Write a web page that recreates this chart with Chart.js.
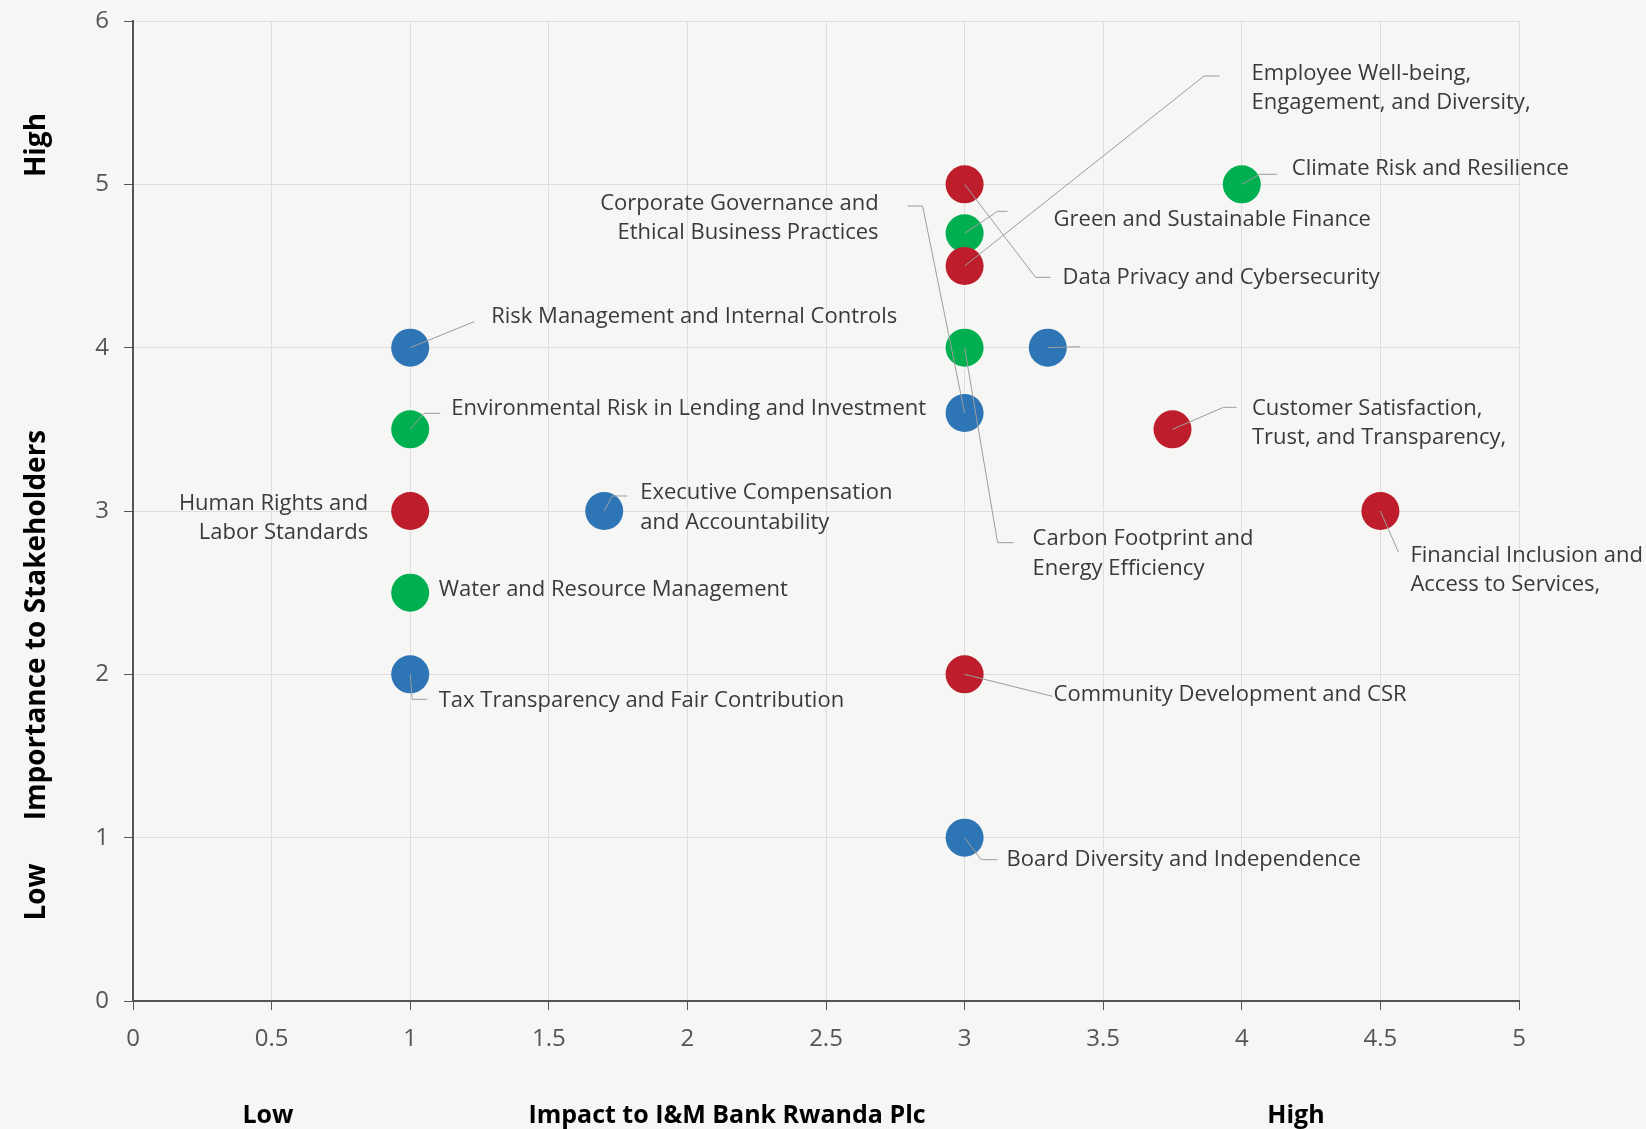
<!DOCTYPE html>
<html>
<head>
<meta charset="utf-8">
<script src="https://cdn.jsdelivr.net/npm/chart.js@4.4.1/dist/chart.umd.min.js"></script>
<style>
  html, body { margin: 0; padding: 0; background: #f6f6f4; }
  #wrap { width: 1646px; height: 1129px; position: relative; }
</style>
</head>
<body>
<div id="wrap"><canvas id="materiality"></canvas></div>
<script>
// material topics
const topics = [
    "Risk Management and Internal Controls",
    "Environmental Risk in Lending and Investment",
    "Human Rights and\nLabor Standards",
    "Water and Resource Management",
    "Tax Transparency and Fair Contribution",
    "Executive Compensation\nand Accountability",
    "Data Privacy and Cybersecurity",
    "Green and Sustainable Finance",
    "Employee Well-being,\nEngagement, and Diversity,",
    "Corporate Governance and\nEthical Business Practices",
    "Carbon Footprint and\nEnergy Efficiency",
    "",
    "Climate Risk and Resilience",
    "Customer Satisfaction,\nTrust, and Transparency,",
    "Financial Inclusion and\nAccess to Services,",
    "Community Development and CSR",
    "Board Diversity and Independence"
];
const impact     = [1, 1, 1, 1, 1, 1.7, 3, 3, 3, 3, 3, 3.3, 4, 3.75, 4.5, 3, 3];
const importance = [4, 3.5, 3, 2.5, 2, 3, 5, 4.7, 4.5, 3.6, 4, 4, 5, 3.5, 3, 2, 1];
// E = environmental, S = social, G = governance
const pillar     = ["G", "E", "S", "E", "G", "G", "S", "E", "S", "G", "E", "G", "E", "S", "S", "S", "G"];

const xRange = [0, 5];
const yRange = [0, 6];
const xTitles = ["Low", "Impact to I&M Bank Rwanda Plc", "High"];
const yTitles = ["High", "Importance to Stakeholders", "Low"];

const pillarColors = { E: "#00b050", S: "#be1e2b", G: "#2e75b6" };

// label placement: pixel offsets from the point centre
const labelLayout = [
    { leader: [[64, -26]], dx: 81, dy: -31 },
    { leader: [[14, -16], [30, -16]], dx: 41, dy: -21 },
    { leader: null, dx: -42, dy: 7, align: "right" },
    { leader: null, dx: 28.5, dy: -3 },
    { leader: [[2, 25], [17, 25]], dx: 28.5, dy: 26 },
    { leader: [[8, -15], [23, -15]], dx: 36, dy: -3.5 },
    { leader: [[71, 93], [86, 93]], dx: 98, dy: 93 },
    { leader: [[33, -22], [43, -22]], dx: 89, dy: -14 },
    { leader: [[239.5, -190], [255, -190]], dx: 287, dy: -177.7 },
    { leader: [[-42, -207], [-57, -207]], dx: -86, dy: -195, align: "right" },
    { leader: [[33, 195], [49, 195]], dx: 68, dy: 206 },
    { leader: [[32, -1]], dx: 0, dy: 0 },
    { leader: [[18, -10], [35, -10]], dx: 50, dy: -16 },
    { leader: [[51, -22], [64, -22]], dx: 79.5, dy: -6 },
    { leader: [[18, 41]], dx: 30, dy: 59 },
    { leader: [[88, 22]], dx: 89, dy: 20.5 },
    { leader: [[16.5, 22], [33, 22]], dx: 42, dy: 22.5 }
];

const FONT = '"Open Sans", "Noto Sans", sans-serif';
const LINE_H = 29.5;

const points = impact.map((x, i) => ({ x: x, y: importance[i] }));

const background = {
    id: "background",
    beforeDraw(chart) {
        const ctx = chart.ctx;
        ctx.save();
        ctx.fillStyle = "#f6f6f4";
        ctx.fillRect(0, 0, chart.width, chart.height);
        ctx.restore();
    }
};

const topicLabels = {
    id: "topicLabels",
    afterDatasetsDraw(chart) {
        const ctx = chart.ctx;
        const meta = chart.getDatasetMeta(0);
        ctx.save();
        meta.data.forEach((pt, i) => {
            const lay = labelLayout[i];
            if (!lay) return;
            if (lay.leader) {
                ctx.strokeStyle = "#9d9d9d";
                ctx.lineWidth = 1;
                ctx.beginPath();
                ctx.moveTo(pt.x, pt.y);
                lay.leader.forEach(([dx, dy]) => ctx.lineTo(pt.x + dx, pt.y + dy));
                ctx.stroke();
            }
            if (!topics[i]) return;
            const lines = topics[i].split("\n");
            ctx.font = "22px " + FONT;
            ctx.fillStyle = "#3a3a3a";
            ctx.textAlign = lay.align || "left";
            ctx.textBaseline = "middle";
            const y0 = pt.y + lay.dy - (lines.length - 1) * LINE_H / 2;
            lines.forEach((line, k) => ctx.fillText(line, pt.x + lay.dx, y0 + k * LINE_H));
        });
        ctx.restore();
    }
};

const axisTitles = {
    id: "axisTitles",
    afterDraw(chart) {
        const ctx = chart.ctx;
        ctx.save();
        ctx.fillStyle = "#000";
        ctx.textAlign = "center";
        ctx.textBaseline = "middle";
        ctx.font = "bold 25px " + FONT;
        const xPos = [268, 727, 1296];
        xTitles.forEach((t, i) => ctx.fillText(t, xPos[i], 1116));
        ctx.font = "bold 28px " + FONT;
        const yPos = [145, 625, 892];
        yTitles.forEach((t, i) => {
            ctx.save();
            ctx.translate(37, yPos[i]);
            ctx.rotate(-Math.PI / 2);
            ctx.fillText(t, 0, 0);
            ctx.restore();
        });
        ctx.restore();
    }
};

new Chart(document.getElementById("materiality"), {
    type: "scatter",
    data: {
        datasets: [{
            label: "Material topics",
            data: points,
            backgroundColor: pillar.map(p => pillarColors[p]),
            borderWidth: 0,
            pointRadius: 19,
            pointHoverRadius: 19
        }]
    },
    options: {
        responsive: true,
        maintainAspectRatio: false,
        animation: false,
        layout: {
            padding: { top: 21, right: 127, left: 0, bottom: 0 }
        },
        plugins: {
            legend: { display: false },
            tooltip: { enabled: false }
        },
        scales: {
            x: {
                type: "linear",
                min: xRange[0],
                max: xRange[1],
                ticks: {
                    stepSize: 0.5,
                    padding: 15,
                    color: "#555",
                    font: { family: FONT, size: 24 },
                    callback: v => String(Number(v))
                },
                grid: { color: "#dedede", tickColor: "#555", tickLength: 9 },
                border: { color: "#555", width: 2 },
                afterFit(scale) { scale.height = 128; }
            },
            y: {
                type: "linear",
                min: yRange[0],
                max: yRange[1],
                ticks: {
                    stepSize: 1,
                    padding: 15,
                    color: "#555",
                    font: { family: FONT, size: 24 }
                },
                grid: { color: "#dedede", tickColor: "#555", tickLength: 9 },
                border: { color: "#555", width: 2 },
                afterFit(scale) {
                    scale.width = 133;
                    scale.paddingTop = 0;
                    scale.paddingBottom = 0;
                }
            }
        }
    },
    plugins: [background, topicLabels, axisTitles]
});
</script>
</body>
</html>
